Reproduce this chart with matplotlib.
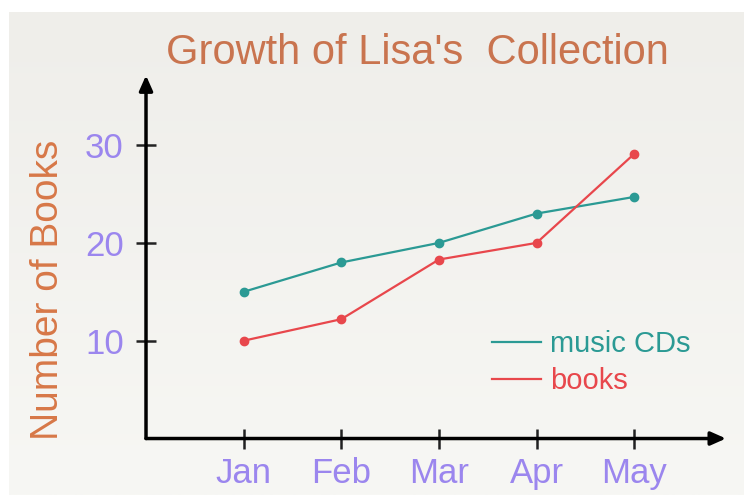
import numpy as np
import matplotlib
matplotlib.use("Agg")
import matplotlib.pyplot as plt
from matplotlib.lines import Line2D

months = ["Jan", "Feb", "Mar", "Apr", "May"]
music_cds = [15, 18, 20, 23, 24.7]
books = [10, 12.2, 18.3, 20, 29.1]
y_ticks = [10, 20, 30]

title_col = "#c9744f"
label_col = "#d77848"
tick_col = "#9b86ee"
teal = "#2b9a94"
red = "#e8474c"

plt.rcParams["font.family"] = ["Liberation Sans", "DejaVu Sans"]

fig = plt.figure(figsize=(7.53, 4.95), dpi=100)
fig.patch.set_facecolor("white")

# soft grey background panel with a slight vertical gradient
bg = fig.add_axes([0.012, 0.0, 0.976, 0.975])
grad = np.linspace(0, 1, 200).reshape(-1, 1)
bg.imshow(grad, aspect="auto", cmap=matplotlib.colors.LinearSegmentedColormap.from_list(
    "bg", ["#efeeea", "#f7f7f4"]), extent=[0, 1, 1, 0])
bg.axis("off")

ax = fig.add_axes([0.1939, 0.1141, 0.778, 0.741])
ax.patch.set_alpha(0)
x = np.arange(1, len(months) + 1)

ax.plot(x, music_cds, color=teal, lw=1.6, marker="o", ms=6)
ax.plot(x, books, color=red, lw=1.6, marker="o", ms=6)

ax.set_xlim(0, 6)
ax.set_ylim(0, 37.5)
for s in ax.spines.values():
    s.set_visible(False)

# axis arrows
ax.annotate("", xy=(0.99, 0), xytext=(0, 0), xycoords="axes fraction",
            arrowprops=dict(arrowstyle="-|>,head_length=0.9,head_width=0.4", color="black", lw=2.5,
                            shrinkA=0, shrinkB=0))
ax.annotate("", xy=(0, 0.99), xytext=(0, 0), xycoords="axes fraction",
            arrowprops=dict(arrowstyle="-|>,head_length=0.9,head_width=0.4", color="black", lw=2.5,
                            shrinkA=0, shrinkB=0))

ax.set_xticks(x)
ax.set_xticklabels(months)
ax.set_yticks(y_ticks)
ax.tick_params(axis="both", direction="inout", length=14, width=1.8, color="#222222",
               labelsize=25, labelcolor=tick_col)
ax.tick_params(axis="x", pad=6)
ax.tick_params(axis="y", pad=9)

fig.text(0.555, 0.893, "Growth of Lisa's  Collection", color=title_col, fontsize=30,
         ha="center", va="center")
fig.text(0.064, 0.414, "Number of Books", color=label_col, fontsize=28,
         rotation=90, ha="center", va="center")

handles = [Line2D([], [], color=teal, lw=1.6), Line2D([], [], color=red, lw=1.6)]
ax.legend(handles, ["music CDs", "books"], loc="upper left",
          bbox_to_anchor=(0.59, 0.295), frameon=False, fontsize=21,
          labelcolor=[teal, red], handlelength=1.7, handletextpad=0.3,
          labelspacing=0.3, borderaxespad=0, borderpad=0)

fig.savefig("out.png", dpi=100, facecolor=fig.get_facecolor())
